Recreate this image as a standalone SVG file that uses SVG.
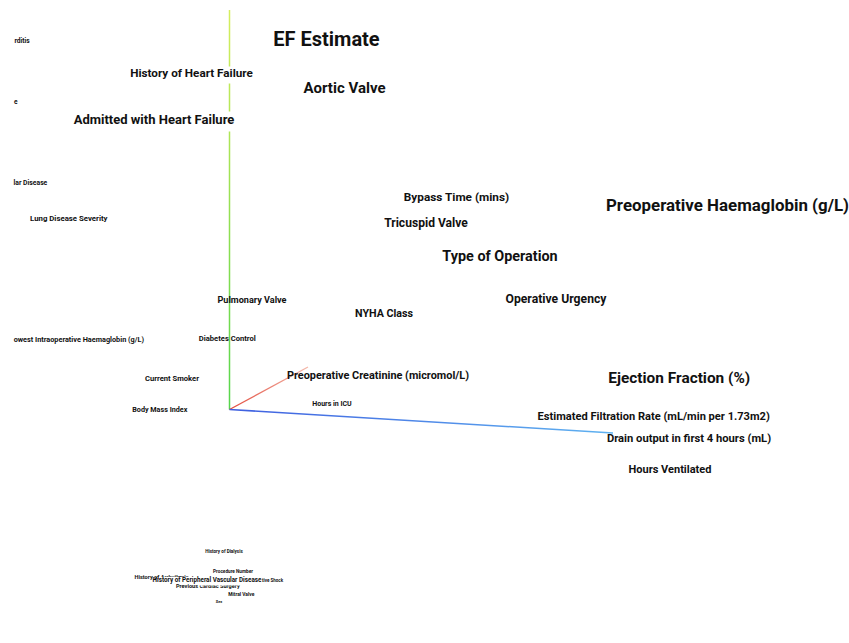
<svg xmlns="http://www.w3.org/2000/svg" width="849" height="643" viewBox="0 0 849 643">
<defs>
<style>
.l{font-family:Roboto,"Liberation Sans",sans-serif;font-weight:bold;fill:#111111;text-anchor:middle}
.s{text-anchor:start}
.e{text-anchor:end}
.ax{fill:none;stroke-linecap:butt}
</style>
<linearGradient id="gY" gradientUnits="userSpaceOnUse" x1="229.5" y1="10" x2="229.5" y2="409.5">
<stop offset="0" stop-color="#d6ee5e"/><stop offset="0.5" stop-color="#96e052"/><stop offset="1" stop-color="#55d64c"/>
</linearGradient>
<linearGradient id="gX" gradientUnits="userSpaceOnUse" x1="229.5" y1="409.5" x2="308" y2="367">
<stop offset="0" stop-color="#e24a3c"/><stop offset="1" stop-color="#f3b8aa"/>
</linearGradient>
<linearGradient id="gZ" gradientUnits="userSpaceOnUse" x1="229.5" y1="409.5" x2="613" y2="433">
<stop offset="0" stop-color="#3f5fe0"/><stop offset="1" stop-color="#5fb2f0"/>
</linearGradient>
<clipPath id="cArr"><rect x="0" y="560" width="159" height="30"/><rect x="159" y="560" width="60" height="16.8"/></clipPath>
<clipPath id="cPrev"><rect x="150" y="575" width="48" height="20"/><rect x="198" y="585.6" width="60" height="10"/></clipPath>
</defs>
<rect width="849" height="643" fill="#ffffff"/>
<g id="connectors">
<path class="ax" stroke="url(#gY)" stroke-width="1.5" d="M229.5 10V66.5M229.5 83.5V111.5M229.5 131.5V409.5"/>
<path class="ax" stroke="url(#gX)" stroke-width="1.3" d="M229.5 409.5L308 367"/>
<path class="ax" stroke="url(#gZ)" stroke-width="1.5" d="M229.5 409.5L613 433"/>
</g>
<g id="n-rditis"><text class="l s" x="14.5" y="43.3" font-size="6.6">rditis</text></g>
<g id="n-e"><text class="l s" x="14" y="103.5" font-size="6.6">e</text></g>
<g id="n-vascular"><text class="l s" x="13.5" y="185" font-size="6.8">lar Disease</text></g>
<g id="n-lowest-hb"><text class="l e" x="144" y="342" font-size="7.3">owest Intraoperative Haemaglobin (g/L)</text></g>
<g id="n-ef-estimate"><text class="l" x="326.5" y="45.5" font-size="20">EF Estimate</text></g>
<g id="n-hist-hf"><text class="l" x="191.5" y="77" font-size="11.7">History of Heart Failure</text></g>
<g id="n-aortic"><text class="l" x="344.5" y="92.5" font-size="15">Aortic Valve</text></g>
<g id="n-admitted-hf"><text class="l" x="154" y="124" font-size="13">Admitted with Heart Failure</text></g>
<g id="n-bypass"><text class="l" x="456.5" y="200.5" font-size="11.8">Bypass Time (mins)</text></g>
<g id="n-tricuspid"><text class="l" x="426" y="227.3" font-size="12.1">Tricuspid Valve</text></g>
<g id="n-type-op"><text class="l" x="500" y="260.5" font-size="14.4">Type of Operation</text></g>
<g id="n-preop-hb"><text class="l" x="727.5" y="211" font-size="16.9">Preoperative Haemaglobin (g/L)</text></g>
<g id="n-urgency"><text class="l" x="556" y="302.7" font-size="12.2">Operative Urgency</text></g>
<g id="n-nyha"><text class="l" x="384" y="317.3" font-size="10.7">NYHA Class</text></g>
<g id="n-pulmonary"><text class="l" x="252" y="303.3" font-size="9.1">Pulmonary Valve</text></g>
<g id="n-diabetes"><text class="l" x="227.3" y="341" font-size="7.6">Diabetes Control</text></g>
<g id="n-lung"><text class="l" x="68.8" y="220.5" font-size="7.8">Lung Disease Severity</text></g>
<g id="n-smoker"><text class="l" x="172" y="380.7" font-size="7.6">Current Smoker</text></g>
<g id="n-bmi"><text class="l" x="159.8" y="411.5" font-size="7.2">Body Mass Index</text></g>
<g id="n-creatinine"><text class="l" x="378" y="379.3" font-size="10.9">Preoperative Creatinine (micromol/L)</text></g>
<g id="n-icu"><text class="l" x="332" y="405.7" font-size="7">Hours in ICU</text></g>
<g id="n-ef"><text class="l" x="679.3" y="383.3" font-size="15.4">Ejection Fraction (%)</text></g>
<g id="n-egfr"><text class="l" x="653.7" y="420" font-size="11.1">Estimated Filtration Rate (mL/min per 1.73m2)</text></g>
<g id="n-drain"><text class="l" x="689" y="441.7" font-size="11.2">Drain output in first 4 hours (mL)</text></g>
<g id="n-ventilated"><text class="l" x="670" y="473.3" font-size="11">Hours Ventilated</text></g>
<g id="n-dialysis"><text class="l" x="224" y="552.7" font-size="4.6">History of Dialysis</text></g>
<g id="n-procedure"><text class="l" x="233" y="573" font-size="4.7">Procedure Number</text></g>
<g id="n-arrhythmia"><text class="l s" x="134.5" y="578.5" font-size="5.6" clip-path="url(#cArr)">History of Arrhythmia</text></g>
<g id="n-shock"><text class="l s" x="262" y="581.5" font-size="4.5">tive Shock</text></g>
<g id="n-pvd"><text class="l" x="207" y="581.7" font-size="6.3">History of Peripheral Vascular Disease</text></g>
<g id="n-previous"><text class="l s" x="176" y="588.3" font-size="5.6" clip-path="url(#cPrev)">Previous Cardiac Surgery</text></g>
<g id="n-mitral"><text class="l" x="241.3" y="595.7" font-size="4.9">Mitral Valve</text></g>
<g id="n-sex"><text class="l" x="219" y="603.3" font-size="3.8">Sex</text></g>
</svg>
